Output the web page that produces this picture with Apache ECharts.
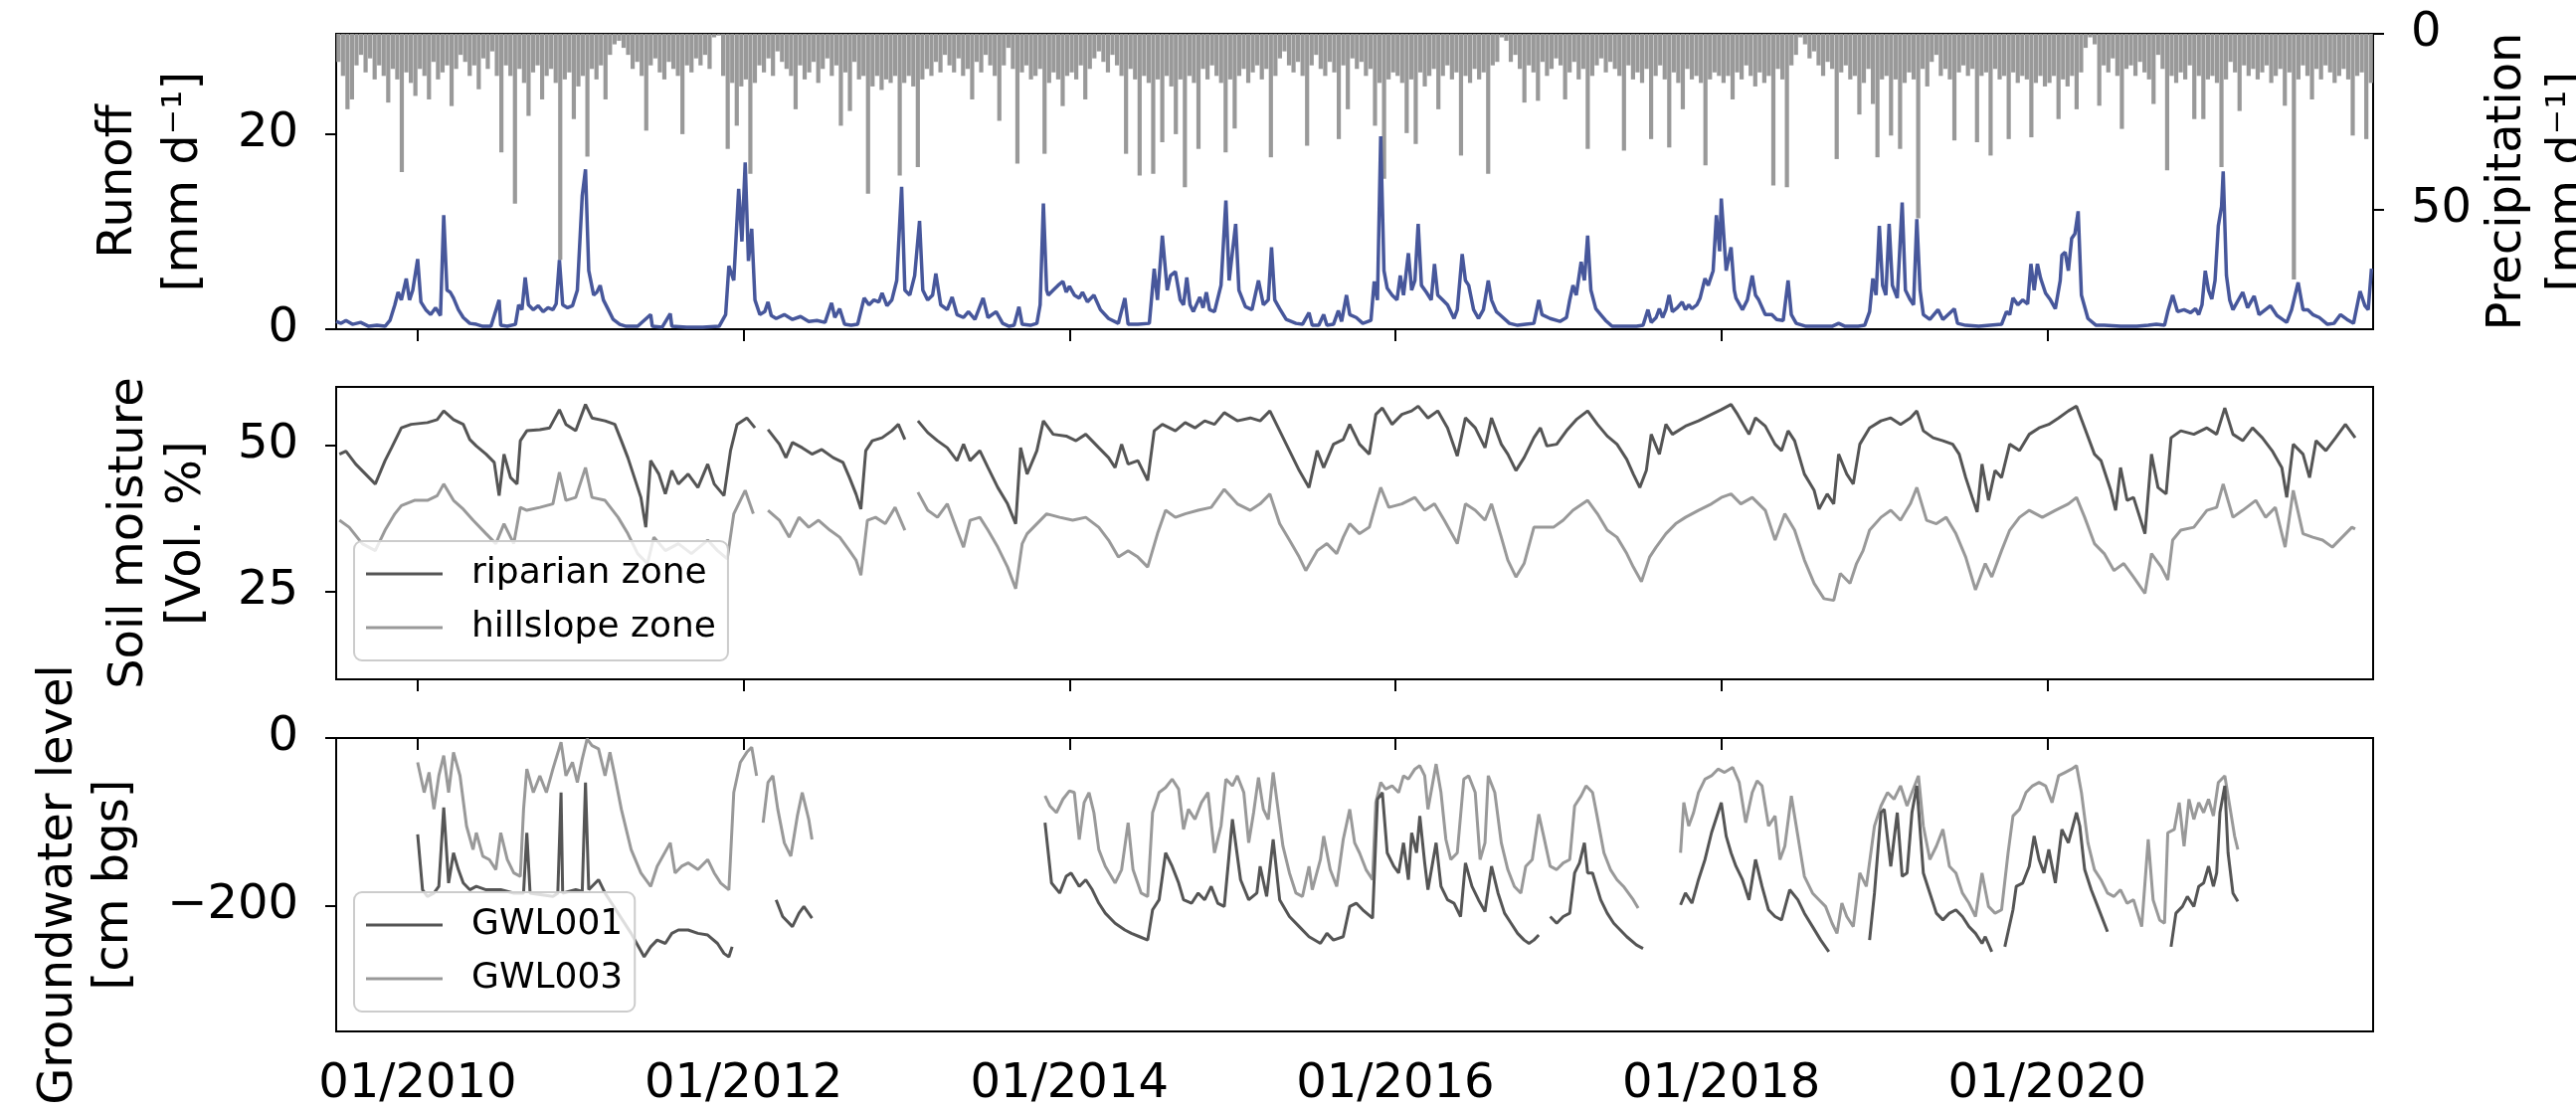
<!DOCTYPE html>
<html><head><meta charset="utf-8">
<script src="https://cdn.jsdelivr.net/npm/echarts@6/dist/echarts.min.js"></script>
<style>html,body{margin:0;padding:0;background:#fff}#c{width:2590px;height:1118px}</style>
</head><body><div id="c"></div>
<script>
// ---------- tick labels ----------
const xTicks = [2010, 2012, 2014, 2016, 2018, 2020];
const runoffTicks = [0, 20];
const precipTicks = [0, 50];
const soilTicks = [25, 50];
const gwlTicks = [-200, 0];

// ---------- runoff [decimal year, mm/d] ----------
const runoff = [
[2009.50,0.8],[2009.53,0.6],[2009.56,0.9],[2009.60,0.5],[2009.65,0.7],[2009.70,0.3],[2009.75,0.4],[2009.80,0.3],[2009.83,0.9],[2009.86,2.5],[2009.88,3.8],[2009.90,3.0],[2009.93,5.2],[2009.95,3.0],[2009.97,4.0],
[2010.00,7.2],[2010.02,2.8],[2010.05,2.0],[2010.08,1.5],[2010.11,2.2],[2010.14,1.4],[2010.16,11.7],[2010.18,4.0],[2010.20,3.8],[2010.22,3.2],[2010.25,2.0],[2010.28,1.2],[2010.32,0.6],[2010.36,0.5],[2010.40,0.3],[2010.45,0.3],[2010.50,3.0],[2010.51,0.4],[2010.55,0.3],[2010.60,0.5],[2010.62,2.5],[2010.64,2.0],[2010.66,5.3],[2010.68,2.5],[2010.71,2.0],[2010.74,2.4],[2010.77,1.8],[2010.80,2.2],[2010.83,2.0],[2010.85,2.6],[2010.87,7.1],[2010.89,2.5],[2010.92,2.2],[2010.95,2.4],[2010.98,4.0],
[2011.01,13.7],[2011.03,16.4],[2011.05,6.0],[2011.08,3.5],[2011.10,3.8],[2011.12,4.5],[2011.14,3.0],[2011.17,2.0],[2011.20,1.0],[2011.24,0.5],[2011.28,0.3],[2011.35,0.3],[2011.43,1.5],[2011.44,0.3],[2011.50,0.2],[2011.55,1.6],[2011.56,0.3],[2011.65,0.2],[2011.75,0.2],[2011.85,0.3],[2011.89,1.5],[2011.91,6.5],[2011.94,5.0],[2011.97,14.4],[2011.99,9.0],
[2012.01,17.1],[2012.03,7.0],[2012.05,10.3],[2012.07,3.0],[2012.10,1.5],[2012.13,1.8],[2012.15,2.8],[2012.17,1.4],[2012.20,1.1],[2012.25,1.5],[2012.30,1.0],[2012.35,1.3],[2012.40,0.8],[2012.45,0.9],[2012.50,0.7],[2012.54,2.7],[2012.56,1.2],[2012.59,2.1],[2012.62,0.5],[2012.66,0.4],[2012.70,0.5],[2012.74,3.2],[2012.77,2.5],[2012.80,3.0],[2012.83,2.8],[2012.85,3.7],[2012.88,2.4],[2012.91,3.0],[2012.94,5.0],[2012.97,14.6],[2012.99,4.0],
[2013.02,3.5],[2013.05,5.5],[2013.08,11.1],[2013.10,4.0],[2013.13,3.0],[2013.16,3.5],[2013.18,5.7],[2013.21,2.5],[2013.25,2.0],[2013.28,3.3],[2013.31,1.5],[2013.35,1.2],[2013.38,1.8],[2013.42,1.0],[2013.47,3.2],[2013.50,1.2],[2013.55,1.8],[2013.59,0.6],[2013.63,0.3],[2013.66,0.4],[2013.69,2.3],[2013.71,0.5],[2013.76,0.4],[2013.80,0.6],[2013.82,2.5],[2013.84,12.9],[2013.86,4.0],[2013.87,3.5],[2013.90,4.0],[2013.93,4.5],[2013.96,4.9],[2013.98,3.8],
[2014.00,4.4],[2014.03,3.5],[2014.06,3.2],[2014.08,3.8],[2014.11,2.8],[2014.15,3.5],[2014.19,2.0],[2014.24,1.1],[2014.30,0.6],[2014.34,3.2],[2014.36,0.5],[2014.42,0.5],[2014.49,0.6],[2014.52,6.2],[2014.54,3.0],[2014.57,9.6],[2014.60,4.0],[2014.62,5.5],[2014.65,5.9],[2014.68,3.0],[2014.70,2.5],[2014.72,5.3],[2014.74,2.5],[2014.76,1.8],[2014.80,3.3],[2014.82,2.2],[2014.84,3.8],[2014.86,2.0],[2014.89,1.8],[2014.93,4.5],[2014.96,13.2],[2014.98,5.0],
[2015.02,10.8],[2015.04,4.0],[2015.08,2.3],[2015.12,2.0],[2015.16,5.0],[2015.19,2.5],[2015.22,3.0],[2015.24,8.4],[2015.26,3.0],[2015.29,2.1],[2015.33,1.0],[2015.39,0.6],[2015.43,0.5],[2015.47,1.7],[2015.49,0.4],[2015.53,0.4],[2015.56,1.5],[2015.58,0.4],[2015.62,0.5],[2015.65,1.9],[2015.67,0.8],[2015.70,3.5],[2015.72,1.5],[2015.76,1.2],[2015.80,0.6],[2015.85,0.9],[2015.87,4.9],[2015.89,3.0],[2015.91,19.8],[2015.93,6.0],[2015.95,4.2],[2015.98,3.5],
[2016.01,3.0],[2016.03,5.5],[2016.05,3.5],[2016.08,7.8],[2016.10,4.0],[2016.12,5.0],[2016.14,10.8],[2016.16,4.5],[2016.19,3.8],[2016.22,3.0],[2016.24,6.7],[2016.26,3.5],[2016.29,3.0],[2016.32,2.5],[2016.36,1.1],[2016.38,2.0],[2016.41,7.7],[2016.43,5.0],[2016.45,4.5],[2016.48,2.0],[2016.51,1.1],[2016.54,2.0],[2016.57,5.0],[2016.59,3.0],[2016.62,1.8],[2016.64,1.5],[2016.70,0.6],[2016.75,0.4],[2016.80,0.5],[2016.85,0.6],[2016.88,3.0],[2016.90,1.5],[2016.95,1.1],
[2017.01,0.8],[2017.05,1.2],[2017.07,3.0],[2017.09,4.5],[2017.11,3.5],[2017.14,6.9],[2017.16,5.0],[2017.18,9.6],[2017.20,4.0],[2017.23,2.1],[2017.26,1.5],[2017.29,0.9],[2017.33,0.3],[2017.40,0.3],[2017.48,0.3],[2017.52,0.4],[2017.55,2.0],[2017.57,0.7],[2017.60,1.2],[2017.62,2.1],[2017.64,1.2],[2017.66,2.0],[2017.68,3.5],[2017.70,1.8],[2017.73,2.2],[2017.76,2.8],[2017.78,2.0],[2017.80,2.5],[2017.82,2.1],[2017.85,2.5],[2017.87,3.2],[2017.90,5.2],[2017.92,4.5],[2017.95,6.0],[2017.97,11.7],[2017.99,8.0],
[2018.00,13.4],[2018.03,6.0],[2018.06,8.4],[2018.08,4.0],[2018.09,3.2],[2018.13,2.0],[2018.16,3.0],[2018.19,5.5],[2018.21,3.5],[2018.23,3.0],[2018.27,1.5],[2018.31,1.5],[2018.34,1.0],[2018.38,0.9],[2018.41,5.0],[2018.43,1.5],[2018.46,0.6],[2018.52,0.3],[2018.60,0.3],[2018.68,0.3],[2018.72,0.6],[2018.76,0.3],[2018.84,0.3],[2018.88,0.4],[2018.91,1.8],[2018.93,5.2],[2018.95,3.5],[2018.97,10.6],[2018.99,4.5],
[2019.01,3.5],[2019.03,10.8],[2019.05,4.5],[2019.08,3.2],[2019.11,13.0],[2019.13,4.0],[2019.16,3.0],[2019.18,2.5],[2019.20,11.3],[2019.22,4.0],[2019.24,1.5],[2019.28,1.0],[2019.33,2.0],[2019.36,1.0],[2019.43,2.1],[2019.45,0.6],[2019.50,0.4],[2019.58,0.3],[2019.65,0.4],[2019.72,0.5],[2019.75,1.8],[2019.77,1.5],[2019.79,3.2],[2019.82,2.5],[2019.85,3.0],[2019.88,2.6],[2019.90,6.7],[2019.92,4.0],[2019.94,6.7],[2019.96,5.2],[2019.99,3.7],
[2020.02,3.0],[2020.05,2.1],[2020.08,5.0],[2020.09,7.6],[2020.11,7.9],[2020.13,6.0],[2020.15,9.3],[2020.17,9.8],[2020.19,12.1],[2020.21,3.5],[2020.25,1.1],[2020.30,0.4],[2020.35,0.4],[2020.45,0.3],[2020.55,0.3],[2020.62,0.4],[2020.67,0.5],[2020.72,0.4],[2020.74,1.8],[2020.77,3.5],[2020.80,1.8],[2020.84,2.0],[2020.88,1.7],[2020.91,2.1],[2020.93,1.5],[2020.95,2.5],[2020.97,6.0],[2020.99,4.0],
[2021.01,3.1],[2021.03,5.0],[2021.05,10.6],[2021.07,12.6],[2021.08,16.2],[2021.10,5.5],[2021.12,3.0],[2021.14,2.0],[2021.20,3.8],[2021.23,2.2],[2021.27,3.4],[2021.30,1.5],[2021.37,2.4],[2021.41,1.4],[2021.47,0.7],[2021.50,2.0],[2021.54,4.8],[2021.57,2.0],[2021.60,2.0],[2021.63,1.5],[2021.67,1.2],[2021.72,0.5],[2021.76,0.6],[2021.80,1.5],[2021.84,1.0],[2021.88,0.6],[2021.92,3.9],[2021.95,2.4],[2021.97,2.0],[2021.99,6.2]
];

// ---------- precipitation, one value per dekad (mm/d), from July 2009 ----------
const precipStart = 2009.5;
const p2009 = [8,12,21.5,18.7,9,6,11,7,13,9,12,19.6,10,13,39.4,11,14,17.7];
const p2010 = [10,12,18.7,8,13,11,9,20.6,10,6,8,12,9,15.8,7,10,5,12,33.8,9,12,48.4,10,14,23.4,11,9,18.7,12,10,14,64.4,13,11,24.3,15];
const p2011 = [12,35,10,13,9,18.7,6,3,2,4,6,10,8,12,27.6,9,7,11,13,8,10,12,28.6,9,11,7,9,6,10,1,0.5,12,32.8,14,26.2,15];
const p2012 = [13,39.9,14,9,11,7,12,5,8,10,12,21.5,9,13,11,8,14,10,7,12,9,26.2,11,22,8,13,12,45.6,15,12,16,13,14,12,40.4,14];
const p2013 = [12,15,38,13,10,12,8,11,6,9,11,7,12,10,18.7,8,11,6,9,12,24.8,9,4,10,37,11,9,13,12,10,34.2,14,11,13,20.6,12];
const p2014 = [11,13,9,18.7,10,7,5,8,11,6,9,12,34.2,10,13,40.4,12,14,39.9,13,30.9,12,15,28.6,13,43.7,12,14,32.8,10,13,9,12,14,33.8,13];
const p2015 = [27,12,10,14,11,9,13,10,35.2,12,7,5,9,11,8,12,31.9,9,6,10,12,8,11,30,9,21.5,7,10,8,12,10,26.2,14,41.3,13,11];
const p2016 = [12,14,28.3,13,31.4,11,15,12,10,21.5,12,9,13,11,34.7,12,14,10,13,11,39.9,9,8,1,2,8,6,10,19.6,9,11,19.1,8,12,10,7];
const p2017 = [9,18.7,11,8,13,10,32.8,12,9,7,11,8,10,12,33.3,9,13,11,14,10,30,12,9,13,32.4,11,14,21.5,10,13,12,14,37.5,13,11,12];
const p2018 = [14,12,18.7,11,13,9,12,15,11,14,12,43.2,10,13,43.7,9,6,1,3,7,5,9,12,8,10,35.7,11,9,13,12,23,14,10,20,35.2,13];
const p2019 = [12,29,13,32.8,14,11,13,52.6,10,15,8,6,12,10,13,30.4,11,9,12,10,30.9,12,11,34.7,10,13,12,30,11,14,12,13,29.5,14,12,15];
const p2020 = [14,12,24.3,13,15,12,21.5,11,4,1,3,20.5,9,11,7,12,27.1,10,9,12,8,11,13,20,6,10,38.9,12,14,11,13,9,24.3,12,24.3,13];
const p2021 = [12,14,38,13,8,11,22,9,12,10,13,11,9,14,12,10,20.5,11,70,13,9,12,18.7,10,13,9,11,14,12,10,13,29,12,11,30,14];

// ---------- soil moisture [decimal year, Vol. %] ----------
const riparian = [
[2009.52,48.5],[2009.56,49.0],[2009.62,46.8],[2009.68,45.1],[2009.74,43.4],[2009.80,47.4],[2009.84,49.6],[2009.90,53.0],[2009.96,53.6],[2010.06,53.9],[2010.12,54.4],[2010.16,55.9],[2010.22,54.4],[2010.28,53.6],[2010.32,51.0],[2010.36,49.9],[2010.42,48.5],[2010.47,47.1],[2010.50,41.4],[2010.53,48.5],[2010.57,44.5],[2010.61,43.4],[2010.63,50.8],[2010.67,52.5],[2010.75,52.7],[2010.81,53.0],[2010.87,56.1],[2010.91,53.6],[2010.97,52.5],
[2011.03,57.0],[2011.07,54.7],[2011.15,54.2],[2011.21,53.6],[2011.25,50.8],[2011.29,47.9],[2011.33,44.5],[2011.37,41.1],[2011.40,36.0],[2011.43,47.4],[2011.48,45.1],[2011.52,41.7],[2011.56,45.7],[2011.60,43.4],[2011.66,45.1],[2011.72,42.8],[2011.78,46.8],[2011.82,43.4],[2011.88,41.4],[2011.92,49.1],[2011.96,53.6],[2012.02,54.7],[2012.07,53.0],[2012.10,null],
[2012.15,52.7],[2012.22,50.2],[2012.26,47.9],[2012.30,50.5],[2012.36,49.6],[2012.42,48.5],[2012.48,49.3],[2012.55,47.9],[2012.61,47.1],[2012.65,44.5],[2012.69,41.7],[2012.72,39.1],[2012.75,49.1],[2012.79,50.8],[2012.85,51.3],[2012.91,52.5],[2012.95,53.6],[2012.99,51.0],[2013.03,null],
[2013.07,54.2],[2013.13,52.2],[2013.19,50.8],[2013.25,49.6],[2013.31,47.4],[2013.35,50.2],[2013.39,47.4],[2013.45,49.1],[2013.50,46.2],[2013.56,42.8],[2013.62,40.0],[2013.67,36.6],[2013.70,49.6],[2013.74,45.1],[2013.80,49.1],[2013.84,54.2],[2013.90,51.9],[2013.98,51.6],
[2014.04,50.8],[2014.10,51.9],[2014.18,49.6],[2014.24,47.9],[2014.28,46.2],[2014.32,50.2],[2014.36,46.8],[2014.42,47.4],[2014.48,44.0],[2014.52,52.5],[2014.57,53.6],[2014.65,52.5],[2014.71,53.9],[2014.77,53.0],[2014.83,54.2],[2014.89,53.6],[2014.95,55.6],
[2015.03,54.2],[2015.11,54.7],[2015.17,54.2],[2015.23,55.9],[2015.29,52.5],[2015.35,49.1],[2015.41,45.7],[2015.47,42.8],[2015.52,49.1],[2015.56,46.2],[2015.62,50.2],[2015.68,51.0],[2015.72,53.6],[2015.78,50.2],[2015.84,48.5],[2015.88,55.3],[2015.92,56.4],[2015.98,53.6],
[2016.04,55.3],[2016.10,55.9],[2016.14,56.7],[2016.20,54.7],[2016.26,55.9],[2016.32,53.0],[2016.38,48.2],[2016.43,54.7],[2016.49,53.0],[2016.55,49.6],[2016.59,54.7],[2016.65,50.2],[2016.69,48.5],[2016.74,45.7],[2016.79,47.9],[2016.85,51.3],[2016.89,53.0],[2016.93,49.9],[2016.99,50.2],
[2017.05,52.5],[2017.11,54.4],[2017.18,55.9],[2017.24,53.6],[2017.30,51.6],[2017.36,50.2],[2017.42,47.6],[2017.46,45.1],[2017.50,42.8],[2017.54,45.7],[2017.57,51.9],[2017.62,48.5],[2017.66,53.6],[2017.70,51.9],[2017.78,53.3],[2017.86,54.2],[2017.94,55.3],
[2018.00,56.1],[2018.06,57.0],[2018.10,55.3],[2018.17,51.9],[2018.21,54.7],[2018.27,53.3],[2018.33,50.2],[2018.37,49.1],[2018.41,52.5],[2018.45,50.8],[2018.51,45.1],[2018.57,42.3],[2018.60,39.1],[2018.65,41.7],[2018.69,40.0],[2018.72,48.5],[2018.77,45.1],[2018.81,43.4],[2018.85,50.2],[2018.91,53.0],[2018.98,54.2],
[2019.04,54.7],[2019.10,53.6],[2019.16,54.7],[2019.20,55.9],[2019.24,52.5],[2019.30,51.3],[2019.36,50.8],[2019.42,50.2],[2019.46,48.5],[2019.50,44.5],[2019.54,41.1],[2019.57,38.6],[2019.60,46.8],[2019.64,40.6],[2019.68,45.7],[2019.72,44.5],[2019.77,50.2],[2019.83,49.1],[2019.89,51.9],[2019.95,53.0],
[2020.01,53.6],[2020.07,54.7],[2020.13,55.9],[2020.18,56.7],[2020.23,53.0],[2020.29,48.5],[2020.33,47.4],[2020.39,42.3],[2020.42,38.9],[2020.45,46.2],[2020.49,40.6],[2020.53,41.1],[2020.60,34.9],[2020.64,48.5],[2020.68,42.8],[2020.73,41.7],[2020.76,51.3],[2020.82,52.5],[2020.90,51.9],[2020.98,53.0],
[2021.04,51.9],[2021.09,56.4],[2021.14,51.9],[2021.20,50.8],[2021.26,53.0],[2021.32,51.3],[2021.38,49.1],[2021.44,46.2],[2021.47,41.1],[2021.51,50.2],[2021.57,48.5],[2021.61,44.5],[2021.65,50.8],[2021.71,49.1],[2021.77,51.3],[2021.83,53.6],[2021.89,51.3]
];
const hillslope = [
[2009.52,37.2],[2009.58,36.0],[2009.66,33.2],[2009.74,32.0],[2009.80,35.5],[2009.86,38.3],[2009.90,39.7],[2009.98,40.6],[2010.06,40.6],[2010.12,41.4],[2010.16,43.4],[2010.22,40.6],[2010.28,39.1],[2010.34,37.2],[2010.42,34.9],[2010.48,33.2],[2010.53,36.6],[2010.59,33.2],[2010.63,39.4],[2010.67,38.9],[2010.75,39.4],[2010.83,40.0],[2010.87,45.4],[2010.91,40.6],[2010.97,41.1],
[2011.03,46.2],[2011.07,41.1],[2011.15,40.6],[2011.23,37.7],[2011.29,34.9],[2011.35,31.5],[2011.41,29.8],[2011.45,34.3],[2011.52,32.0],[2011.60,33.2],[2011.68,31.5],[2011.78,33.8],[2011.84,32.0],[2011.90,30.6],[2011.94,38.3],[2011.98,40.6],[2012.01,42.3],[2012.06,38.3],[2012.10,null],
[2012.15,38.9],[2012.22,37.2],[2012.28,34.3],[2012.34,37.7],[2012.40,36.0],[2012.46,37.2],[2012.53,35.5],[2012.59,34.3],[2012.65,32.0],[2012.69,30.4],[2012.72,27.8],[2012.76,37.2],[2012.81,37.7],[2012.87,36.6],[2012.93,39.4],[2012.99,35.5],[2013.03,null],
[2013.07,42.0],[2013.13,38.9],[2013.19,37.7],[2013.25,40.0],[2013.31,35.5],[2013.35,32.6],[2013.39,37.2],[2013.45,37.7],[2013.50,35.5],[2013.56,32.6],[2013.62,29.2],[2013.67,25.5],[2013.71,33.2],[2013.74,34.9],[2013.80,36.6],[2013.86,38.3],[2013.94,37.7],
[2014.02,37.2],[2014.10,37.7],[2014.18,36.0],[2014.24,33.8],[2014.30,30.9],[2014.36,32.0],[2014.42,30.9],[2014.48,29.2],[2014.54,34.9],[2014.59,38.9],[2014.65,37.7],[2014.71,38.3],[2014.79,38.9],[2014.87,39.4],[2014.95,42.5],
[2015.03,40.0],[2015.11,38.9],[2015.17,40.0],[2015.23,41.7],[2015.29,36.6],[2015.35,33.8],[2015.41,30.9],[2015.45,28.6],[2015.52,32.0],[2015.58,33.2],[2015.64,31.5],[2015.68,34.3],[2015.72,36.6],[2015.78,34.9],[2015.84,36.0],[2015.88,40.0],[2015.91,42.8],[2015.96,39.4],
[2016.04,40.0],[2016.12,41.1],[2016.18,38.9],[2016.24,40.0],[2016.30,37.2],[2016.38,33.2],[2016.43,40.0],[2016.49,38.9],[2016.55,37.2],[2016.59,40.0],[2016.65,34.3],[2016.69,30.4],[2016.74,27.5],[2016.79,29.8],[2016.85,36.0],[2016.91,36.0],[2016.97,36.0],
[2017.03,37.2],[2017.09,38.9],[2017.18,40.6],[2017.24,38.3],[2017.30,35.5],[2017.36,34.3],[2017.42,31.5],[2017.46,29.2],[2017.51,26.7],[2017.56,30.9],[2017.60,32.6],[2017.66,34.9],[2017.72,36.6],[2017.78,37.7],[2017.86,38.9],[2017.94,40.0],
[2018.00,41.1],[2018.06,41.7],[2018.12,40.0],[2018.19,41.1],[2018.27,38.9],[2018.33,33.8],[2018.39,38.3],[2018.45,35.5],[2018.51,30.4],[2018.57,26.4],[2018.63,23.8],[2018.69,23.5],[2018.73,28.1],[2018.79,26.4],[2018.83,29.8],[2018.87,32.0],[2018.91,35.5],[2018.98,37.7],
[2019.04,38.9],[2019.10,37.2],[2019.16,40.0],[2019.20,42.8],[2019.26,37.2],[2019.32,36.6],[2019.38,37.7],[2019.44,34.9],[2019.50,30.9],[2019.56,25.3],[2019.62,29.8],[2019.66,27.5],[2019.72,32.0],[2019.77,35.5],[2019.83,37.7],[2019.89,38.9],[2019.97,37.7],
[2020.05,38.9],[2020.13,40.0],[2020.18,41.1],[2020.23,37.7],[2020.29,33.2],[2020.35,31.5],[2020.41,28.6],[2020.47,29.8],[2020.53,27.5],[2020.60,24.7],[2020.64,31.5],[2020.70,29.2],[2020.74,27.0],[2020.77,33.8],[2020.82,35.5],[2020.90,36.0],[2020.98,38.9],
[2021.04,39.4],[2021.08,43.4],[2021.14,37.7],[2021.20,38.9],[2021.28,40.6],[2021.34,37.7],[2021.40,39.4],[2021.46,32.6],[2021.51,42.3],[2021.57,34.9],[2021.63,34.3],[2021.69,33.8],[2021.75,32.6],[2021.81,34.3],[2021.87,36.0],[2021.89,35.7]
];

// ---------- groundwater level [decimal year, cm bgs] (null = gap) ----------
const gwl001 = [
[2010.00,-115],[2010.03,-181],[2010.06,-189],[2010.10,-185],[2010.13,-177],[2010.16,-83],[2010.19,-173],[2010.22,-137],[2010.25,-157],[2010.28,-173],[2010.32,-181],[2010.36,-177],[2010.42,-181],[2010.51,-181],[2010.59,-185],[2010.65,-185],[2010.67,-113],[2010.69,-185],[2010.83,-189],[2010.86,-185],[2010.88,-65],[2010.89,-185],[2010.97,-181],[2011.01,-183],[2011.03,-53],[2011.05,-181],[2011.11,-169],[2011.15,-185],[2011.23,-209],[2011.31,-233],[2011.39,-261],[2011.43,-249],[2011.47,-241],[2011.52,-245],[2011.56,-233],[2011.60,-229],[2011.66,-229],[2011.72,-233],[2011.78,-235],[2011.84,-245],[2011.88,-257],[2011.91,-261],[2011.93,-249],[2012.00,null],
[2012.20,-193],[2012.24,-213],[2012.30,-225],[2012.34,-209],[2012.37,-201],[2012.42,-215],[2013.00,null],
[2013.85,-101],[2013.89,-173],[2013.94,-185],[2013.98,-165],[2014.01,-161],[2014.06,-177],[2014.10,-169],[2014.14,-181],[2014.18,-197],[2014.22,-209],[2014.28,-221],[2014.34,-229],[2014.38,-233],[2014.43,-237],[2014.48,-241],[2014.51,-205],[2014.55,-193],[2014.59,-137],[2014.63,-153],[2014.67,-173],[2014.70,-193],[2014.75,-197],[2014.79,-185],[2014.83,-193],[2014.87,-177],[2014.91,-197],[2014.95,-201],[2015.00,-97],[2015.05,-169],[2015.10,-193],[2015.15,-185],[2015.17,-153],[2015.21,-189],[2015.25,-121],[2015.29,-193],[2015.35,-213],[2015.41,-225],[2015.47,-237],[2015.54,-245],[2015.58,-233],[2015.62,-241],
[2015.68,-237],[2015.72,-201],[2015.76,-197],[2015.80,-205],[2015.86,-215],[2015.89,-73],[2015.92,-65],[2015.95,-137],[2015.99,-153],[2016.02,-161],[2016.05,-125],[2016.08,-169],[2016.10,-113],[2016.13,-137],[2016.15,-93],[2016.18,-149],[2016.20,-181],[2016.25,-125],[2016.28,-177],[2016.32,-193],[2016.36,-197],[2016.40,-213],[2016.43,-149],[2016.47,-177],[2016.51,-193],[2016.55,-207],[2016.59,-153],[2016.63,-185],[2016.67,-209],[2016.71,-221],[2016.75,-233],[2016.79,-241],[2016.82,-245],[2016.85,-241],[2016.88,-235],[2016.91,null],
[2016.95,-213],[2016.99,-221],[2017.03,-213],[2017.07,-209],[2017.10,-161],[2017.13,-149],[2017.16,-125],[2017.18,-161],[2017.21,-161],[2017.26,-193],[2017.30,-209],[2017.34,-221],[2017.38,-229],[2017.42,-237],[2017.48,-247],[2017.52,-251],[2017.60,null],
[2017.75,-199],[2017.78,-185],[2017.82,-197],[2017.86,-169],[2017.90,-145],[2017.94,-113],[2017.98,-89],[2018.00,-77],[2018.03,-117],[2018.06,-137],[2018.09,-153],[2018.13,-169],[2018.17,-193],[2018.21,-145],[2018.25,-177],[2018.29,-205],[2018.33,-213],[2018.37,-217],[2018.42,-181],[2018.47,-193],[2018.51,-209],[2018.56,-225],[2018.61,-241],[2018.66,-255],[2018.80,null],
[2018.91,-241],[2018.94,-185],[2018.98,-89],[2019.00,-85],[2019.04,-153],[2019.08,-89],[2019.11,-165],[2019.14,-161],[2019.17,-89],[2019.20,-57],[2019.24,-161],[2019.28,-185],[2019.32,-209],[2019.36,-217],[2019.40,-209],[2019.44,-205],[2019.48,-213],[2019.52,-225],[2019.56,-233],[2019.60,-245],[2019.62,-237],[2019.66,-255],[2019.70,null],
[2019.74,-249],[2019.79,-205],[2019.81,-177],[2019.85,-173],[2019.89,-153],[2019.92,-117],[2019.95,-145],[2019.98,-161],[2020.01,-133],[2020.05,-173],[2020.09,-109],[2020.13,-125],[2020.18,-89],[2020.20,-105],[2020.23,-157],[2020.27,-181],[2020.31,-201],[2020.37,-231],[2020.50,null],
[2020.76,-249],[2020.79,-209],[2020.83,-201],[2020.86,-189],[2020.90,-201],[2020.93,-177],[2020.96,-173],[2020.99,-153],[2021.02,-177],[2021.04,-161],[2021.06,-89],[2021.09,-57],[2021.11,-137],[2021.14,-185],[2021.17,-195]
];
const gwl003 = [
[2010.00,-29],[2010.04,-65],[2010.07,-41],[2010.10,-85],[2010.13,-45],[2010.16,-21],[2010.19,-65],[2010.22,-17],[2010.26,-45],[2010.30,-105],[2010.34,-133],[2010.36,-113],[2010.40,-141],[2010.44,-145],[2010.48,-157],[2010.51,-113],[2010.55,-145],[2010.59,-161],[2010.63,-165],[2010.65,-85],[2010.67,-37],[2010.71,-65],[2010.75,-45],[2010.79,-65],[2010.83,-37],[2010.88,-5],[2010.91,-45],[2010.95,-29],[2010.98,-53],[2011.01,-25],[2011.04,-1],[2011.07,-9],[2011.11,-13],[2011.15,-45],[2011.18,-17],[2011.21,-45],[2011.25,-85],[2011.31,-133],[2011.37,-161],[2011.43,-177],[2011.47,-153],[2011.55,-125],[2011.58,-161],[2011.62,-153],[2011.66,-149],[2011.72,-157],[2011.78,-145],[2011.82,-161],[2011.86,-173],[2011.91,-181],[2011.94,-65],[2011.98,-29],[2012.02,-17],[2012.05,-11],[2012.08,-45],[2012.10,null],
[2012.12,-101],[2012.15,-53],[2012.18,-45],[2012.21,-85],[2012.25,-125],[2012.29,-141],[2012.33,-93],[2012.36,-65],[2012.40,-97],[2012.42,-121],[2013.00,null],
[2013.85,-69],[2013.88,-81],[2013.92,-89],[2013.96,-73],[2014.00,-63],[2014.03,-65],[2014.06,-121],[2014.09,-77],[2014.12,-65],[2014.15,-89],[2014.18,-133],[2014.22,-153],[2014.28,-173],[2014.32,-157],[2014.36,-101],[2014.39,-157],[2014.44,-185],[2014.48,-189],[2014.51,-89],[2014.55,-65],[2014.59,-59],[2014.63,-49],[2014.67,-61],[2014.70,-109],[2014.73,-85],[2014.77,-97],[2014.81,-77],[2014.85,-65],[2014.89,-137],[2014.93,-105],[2014.96,-49],[2015.00,-57],[2015.03,-45],[2015.07,-65],[2015.10,-125],[2015.13,-89],[2015.16,-47],[2015.19,-85],[2015.22,-97],[2015.25,-41],[2015.28,-85],[2015.31,-129],[2015.35,-161],[2015.39,-185],[2015.43,-189],[2015.47,-153],[2015.49,-181],[2015.54,-145],[2015.56,-117],[2015.60,-157],[2015.64,-177],
[2015.68,-121],[2015.72,-85],[2015.75,-125],[2015.78,-137],[2015.82,-157],[2015.86,-169],[2015.88,-77],[2015.91,-53],[2015.94,-61],[2015.98,-57],[2016.02,-65],[2016.05,-45],[2016.08,-49],[2016.12,-37],[2016.15,-33],[2016.18,-45],[2016.20,-85],[2016.25,-31],[2016.28,-65],[2016.31,-121],[2016.34,-145],[2016.38,-137],[2016.42,-49],[2016.45,-45],[2016.49,-65],[2016.52,-145],[2016.55,-125],[2016.57,-45],[2016.61,-65],[2016.65,-125],[2016.69,-157],[2016.73,-177],[2016.77,-185],[2016.80,-153],[2016.84,-145],[2016.88,-91],[2016.91,-117],[2016.95,-153],[2016.99,-157],[2017.03,-149],[2017.07,-145],[2017.10,-81],[2017.14,-69],[2017.17,-57],[2017.21,-65],[2017.23,-85],[2017.28,-137],[2017.32,-157],[2017.36,-169],[2017.40,-177],[2017.46,-193],[2017.49,-203],[2017.60,null],
[2017.75,-137],[2017.77,-77],[2017.80,-105],[2017.83,-89],[2017.86,-65],[2017.90,-49],[2017.94,-45],[2017.98,-37],[2018.02,-41],[2018.07,-35],[2018.11,-53],[2018.15,-101],[2018.19,-65],[2018.22,-51],[2018.25,-57],[2018.29,-105],[2018.33,-93],[2018.36,-145],[2018.39,-129],[2018.43,-69],[2018.47,-117],[2018.51,-165],[2018.56,-185],[2018.60,-193],[2018.64,-201],[2018.68,-221],[2018.71,-233],[2018.74,-197],[2018.77,-213],[2018.81,-225],[2018.85,-161],[2018.89,-177],[2018.94,-105],[2018.98,-81],[2019.02,-65],[2019.06,-73],[2019.10,-57],[2019.14,-81],[2019.17,-65],[2019.21,-45],[2019.24,-105],[2019.28,-145],[2019.32,-129],[2019.36,-109],[2019.40,-153],[2019.44,-161],[2019.48,-185],[2019.52,-197],[2019.56,-213],[2019.60,-161],[2019.64,-201],[2019.68,-209],[2019.72,-205],[2019.76,-137],[2019.79,-93],[2019.83,-85],[2019.87,-65],[2019.91,-57],[2019.95,-53],[2019.99,-57],[2020.03,-77],[2020.07,-45],[2020.11,-41],[2020.15,-37],[2020.18,-33],[2020.21,-65],[2020.25,-125],[2020.29,-157],[2020.33,-169],[2020.37,-185],[2020.41,-189],[2020.45,-181],[2020.49,-197],[2020.53,-193],[2020.58,-225],[2020.62,-121],[2020.65,-193],[2020.69,-217],[2020.72,-221],[2020.74,-113],[2020.78,-109],[2020.81,-77],[2020.84,-129],[2020.87,-73],[2020.90,-97],[2020.93,-77],[2020.96,-89],[2020.99,-73],[2021.02,-93],[2021.05,-53],[2021.09,-45],[2021.12,-81],[2021.15,-117],[2021.17,-133]
];

// ---------- build ----------
const precipVals = [].concat(p2009, p2010, p2011, p2012, p2013, p2014, p2015, p2016, p2017, p2018, p2019, p2020, p2021);
const precipData = precipVals.map((v, i) => [precipStart + (i + 0.5) / 36, v]);

const FONT = 'DejaVu Sans';
const BLACK = '#000000';
const minus = v => (v < 0 ? '\u2212' + Math.abs(v) : String(v));

function xAx(gi, showLabel) {
  return {
    type: 'value', gridIndex: gi, min: 2009.5, max: 2022,
    axisLine: { show: false }, splitLine: { show: false },
    axisTick: { show: true, customValues: xTicks, length: 12, lineStyle: { color: BLACK, width: 2 } },
    axisLabel: { show: showLabel, customValues: xTicks, margin: 30, fontSize: 48, fontFamily: FONT, color: BLACK,
      formatter: v => '01/' + v }
  };
}
function yAx(gi, o) {
  return Object.assign({
    type: 'value', gridIndex: gi, position: 'left',
    axisLine: { show: false }, splitLine: { show: false },
    axisTick: { show: true, customValues: o.ticks, length: 11, lineStyle: { color: BLACK, width: 2 } },
    axisLabel: { show: true, customValues: o.ticks, margin: 38, fontSize: 48, fontFamily: FONT, color: BLACK, formatter: minus },
    nameLocation: 'middle', nameRotate: 90, nameMoveOverlap: false,
    nameTextStyle: { fontSize: 48, fontFamily: FONT, color: BLACK, lineHeight: o.lh || 62 }
  }, o.extra);
}

const gridBase = { show: true, borderColor: BLACK, borderWidth: 2, backgroundColor: 'transparent', containLabel: false, outerBoundsMode: 'none' };
const legendBase = {
  orient: 'vertical', left: 356, padding: [11, 12, 11, 12], itemWidth: 77, itemHeight: 3, itemGap: 10,
  icon: 'rect', backgroundColor: 'rgba(255,255,255,0.8)', borderColor: '#cccccc', borderWidth: 2, borderRadius: 8,
  selectedMode: false, z: 10,
  textStyle: { fontFamily: FONT, fontSize: 36, color: BLACK, lineHeight: 44, padding: [0, 0, 0, 24] }
};

const chart = echarts.init(document.getElementById('c'), null, { renderer: 'canvas' });
chart.setOption({
  animation: false,
  backgroundColor: '#ffffff',
  grid: [
    Object.assign({ left: 338, top: 34, width: 2048, height: 297 }, gridBase),
    Object.assign({ left: 338, top: 389, width: 2048, height: 294 }, gridBase),
    Object.assign({ left: 338, top: 742, width: 2048, height: 295 }, gridBase)
  ],
  xAxis: [xAx(0, false), xAx(1, false), xAx(2, true)],
  yAxis: [
    yAx(0, { ticks: runoffTicks, lh: 66, extra: { min: 0, max: 30.3, name: 'Runoff\n[mm d\u207B\u00B9]', nameGap: 119 } }),
    yAx(0, { ticks: precipTicks, lh: 61, extra: { position: 'right', inverse: true, min: 0, max: 84.2, name: 'Precipitation\n[mm d\u207B\u00B9]', nameGap: 105 } }),
    yAx(1, { ticks: soilTicks, lh: 58, extra: { min: 10, max: 60, name: 'Soil moisture\n[Vol. %]', nameGap: 120 } }),
    yAx(2, { ticks: gwlTicks, lh: 56, extra: { min: -350, max: 0, name: 'Groundwater level\n[cm bgs]', nameGap: 194 } })
  ],
  legend: [
    Object.assign({}, legendBase, { top: 544, data: ['riparian zone', 'hillslope zone'] }),
    Object.assign({}, legendBase, { top: 897, data: ['GWL001', 'GWL003'] })
  ],
  series: [
    { name: 'Precipitation', type: 'bar', xAxisIndex: 0, yAxisIndex: 1, data: precipData, barWidth: 4.2,
      itemStyle: { color: '#999999' }, z: 1 },
    { name: 'Runoff', type: 'line', xAxisIndex: 0, yAxisIndex: 0, data: runoff, symbol: 'none',
      lineStyle: { color: '#47579b', width: 3.5 }, itemStyle: { color: '#47579b' }, z: 3 },
    { name: 'riparian zone', type: 'line', xAxisIndex: 1, yAxisIndex: 2, data: riparian, symbol: 'none', connectNulls: false,
      lineStyle: { color: '#555555', width: 3 }, itemStyle: { color: '#555555' }, z: 3 },
    { name: 'hillslope zone', type: 'line', xAxisIndex: 1, yAxisIndex: 2, data: hillslope, symbol: 'none', connectNulls: false,
      lineStyle: { color: '#999999', width: 3 }, itemStyle: { color: '#999999' }, z: 2 },
    { name: 'GWL001', type: 'line', xAxisIndex: 2, yAxisIndex: 3, data: gwl001, symbol: 'none', connectNulls: false,
      lineStyle: { color: '#555555', width: 3 }, itemStyle: { color: '#555555' }, z: 3 },
    { name: 'GWL003', type: 'line', xAxisIndex: 2, yAxisIndex: 3, data: gwl003, symbol: 'none', connectNulls: false,
      lineStyle: { color: '#999999', width: 3 }, itemStyle: { color: '#999999' }, z: 2 }
  ]
});
</script>
</body></html>
